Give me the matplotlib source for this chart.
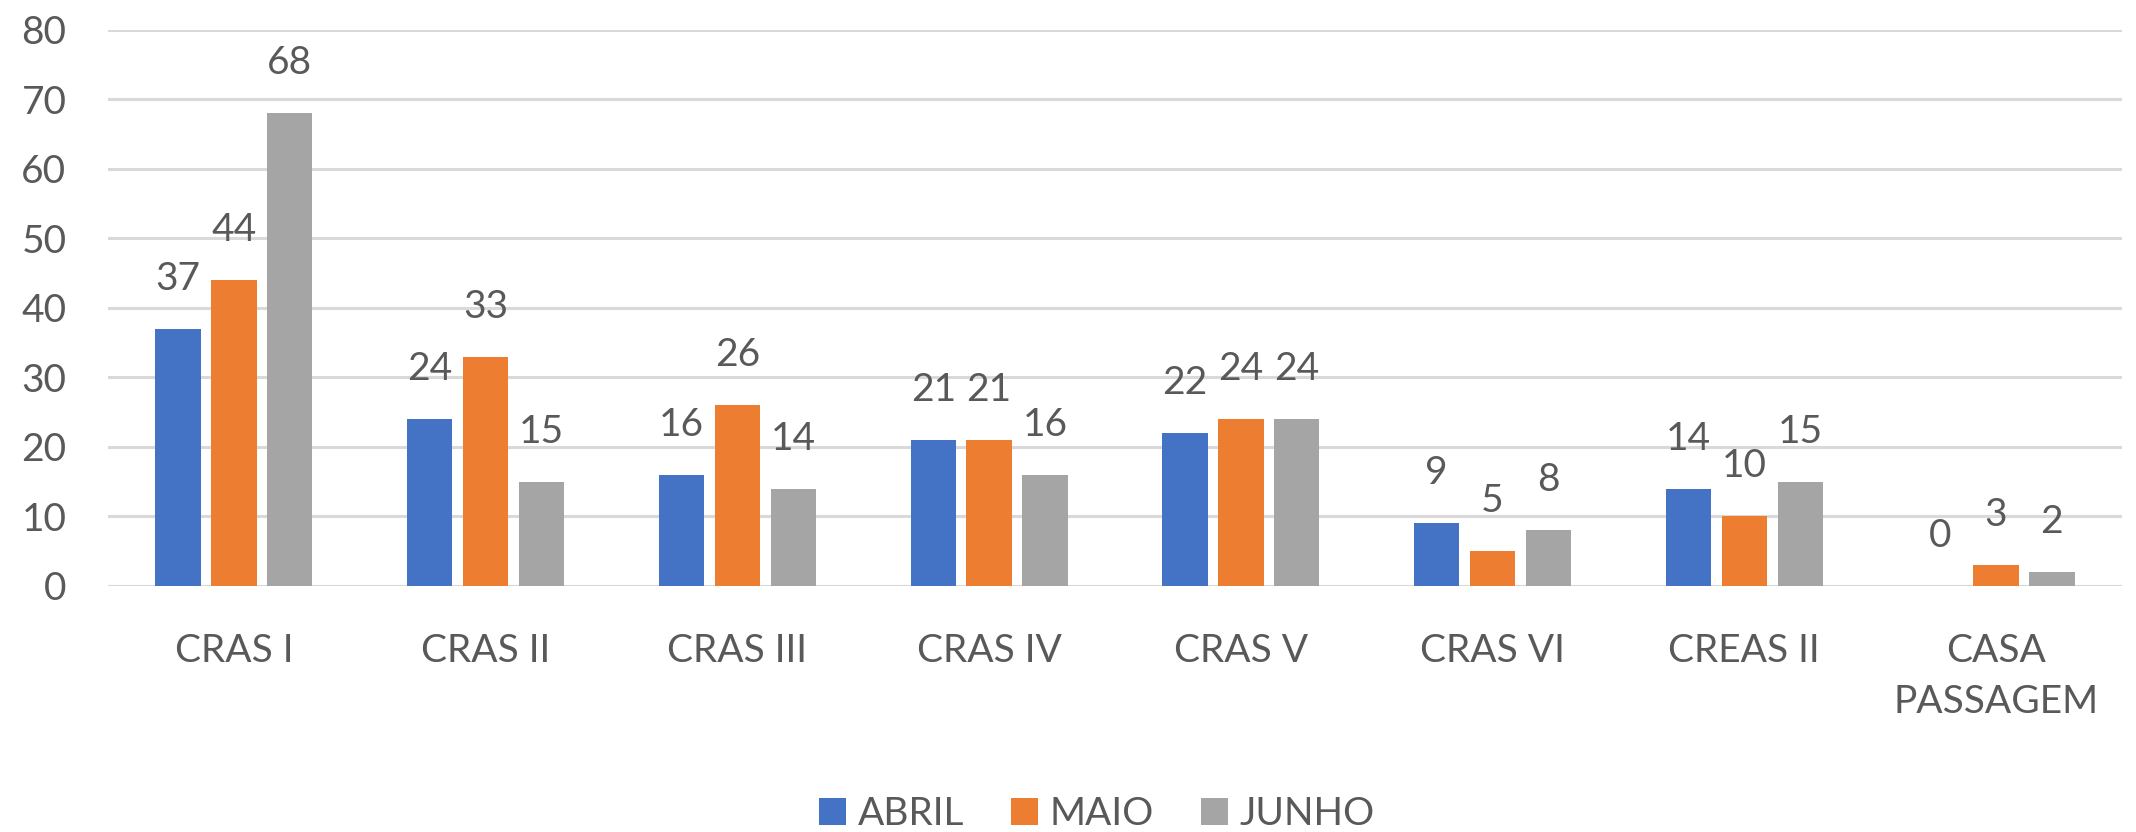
import numpy as np
import matplotlib.pyplot as plt

plt.rcParams['font.family'] = ['Lato', 'DejaVu Sans']

categorias = ['CRAS I', 'CRAS II', 'CRAS III', 'CRAS IV', 'CRAS V',
              'CRAS VI', 'CREAS II', 'CASA\nPASSAGEM']
abril = [37, 24, 16, 21, 22, 9, 14, 0]
maio = [44, 33, 26, 21, 24, 5, 10, 3]
junho = [68, 15, 14, 16, 24, 8, 15, 2]

series = [('ABRIL', abril, '#4472C4'),
          ('MAIO', maio, '#ED7D31'),
          ('JUNHO', junho, '#A5A5A5')]

texto = '#595959'

fig = plt.figure(figsize=(21.36, 8.32), dpi=100)
ax = fig.add_axes([0.0506, 0.2957, 0.9428, 0.6683])

x = np.arange(len(categorias))
largura = 0.18
passo = 0.222

for i, (nome, vals, cor) in enumerate(series):
    pos = x + (i - 1) * passo
    ax.bar(pos, vals, largura, color=cor, label=nome, zorder=3)
    for px, v in zip(pos, vals):
        ax.annotate(str(v), (px, v), xytext=(0, 36), textcoords='offset points',
                    ha='center', va='center', fontsize=28, color=texto)

ax.set_xlim(-0.5, len(categorias) - 0.5)
ax.set_ylim(0, 80)
ax.set_yticks(range(0, 81, 10))
ax.set_xticks(x)
ax.set_xticklabels(categorias, linespacing=1.5)
ax.grid(axis='y', color='#D9D9D9', linewidth=2.2, zorder=0)
for s in ax.spines.values():
    s.set_visible(False)
ax.tick_params(axis='both', length=0, labelsize=28, colors=texto)
ax.tick_params(axis='y', pad=30)
ax.tick_params(axis='x', pad=34)

ax.legend(loc='center', bbox_to_anchor=(0.491, -0.41), ncol=3, frameon=False,
          fontsize=28, labelcolor=texto, handlelength=0.7, handleheight=0.7,
          handletextpad=0.3, columnspacing=1.2)

fig.savefig('out.png', dpi=100)
